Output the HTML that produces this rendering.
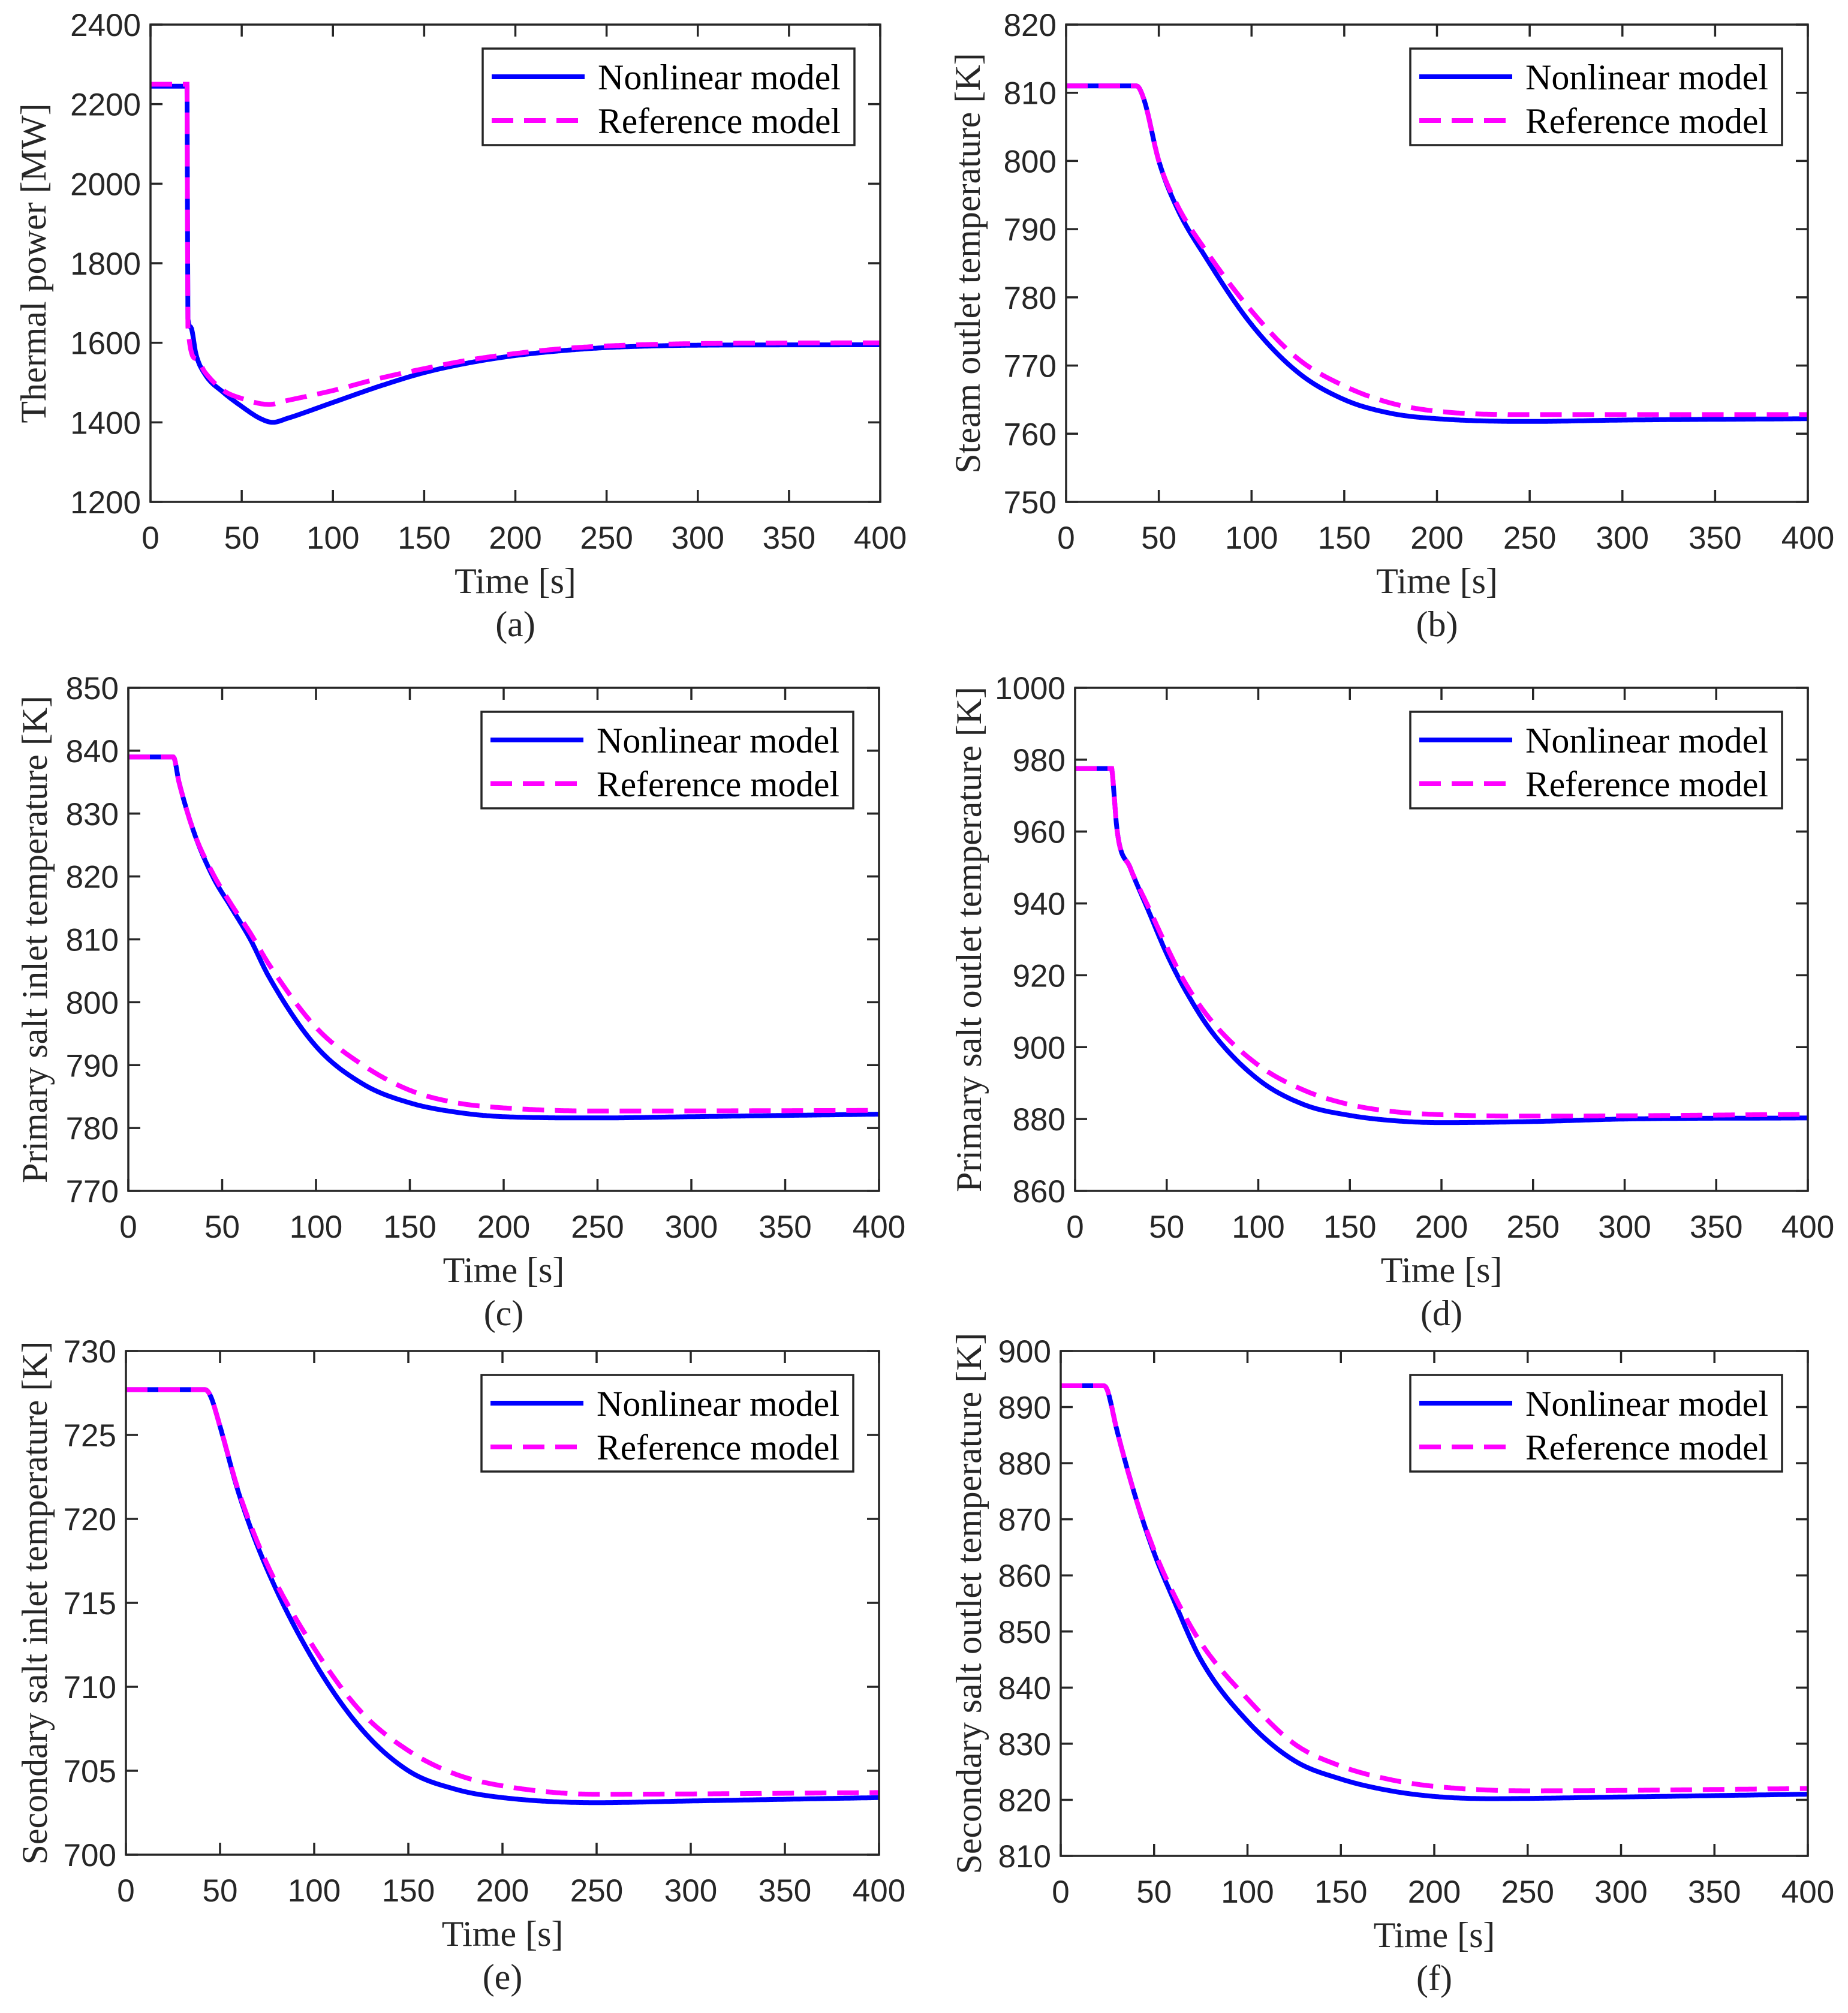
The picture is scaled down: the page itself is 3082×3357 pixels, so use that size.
<!DOCTYPE html>
<html><head><meta charset="utf-8"><style>
html,body{margin:0;padding:0;background:#fff}
svg{display:block}
.tk{font-family:"Liberation Sans",Arial,sans-serif;font-size:53px;fill:#262626}
.lb{font-family:"Liberation Serif","Times New Roman",serif;font-size:60px;fill:#262626}
.lg{font-family:"Liberation Serif","Times New Roman",serif;font-size:60px;fill:#000}
</style></head><body>
<svg id="fig" width="3082" height="3357" viewBox="0 0 3082 3357" xmlns="http://www.w3.org/2000/svg"></svg>
<script>
// ---- data ----
const aNonT=[0,20,20.5,22,25,30,40,50,60,67,75,100,125,150,175,200,225,250,275,300,400];
const aNonV=[2245,2245,1660,1640,1570,1520,1475,1440,1410,1400,1410,1450,1490,1525,1550,1568,1580,1588,1592,1594,1595];
const aRefT=[0,20,20.5,25,30,40,50,65,75,100,125,150,175,200,225,250,300,400];
const aRefV=[2250,2250,1640,1560,1525,1480,1460,1445,1455,1480,1510,1535,1557,1573,1585,1592,1598,1600];
const bNonT=[0,38,42,50,60,75,100,125,150,175,200,250,300,400];
const bNonV=[811,811,809,800,793,786,776,769,765,763,762.2,761.8,762,762.2];
const bRefT=[0,38,42,50,60,75,100,125,150,175,200,250,400];
const bRefV=[811,811,809,800,793.5,787,778,771,767,764.5,763.3,762.8,762.8];
const cNonT=[0,24,27,35,45,55,65,75,100,125,150,175,200,250,300,400];
const cNonV=[839,839,835,827,820,815,810,804,793,787,784,782.5,781.8,781.6,781.8,782.2];
const cRefT=[0,24,27,35,45,55,65,75,100,125,150,175,200,250,400];
const cRefV=[839,839,835,827,820.5,815.5,811,806,796,790,786,784,783.2,782.7,782.8];
const dNonT=[0,20,21,23,30,40,50,60,75,100,125,150,175,200,250,300,400];
const dNonV=[977.5,977.5,972,960,950,938,926,916,904,891,884,881,879.5,879,879.3,880,880.3];
const dRefT=[0,20,21,23,30,40,50,60,75,100,125,150,175,200,250,400];
const dRefV=[977.5,977.5,972,960,950,939,928,918,907,895,888,884,882,881.2,880.8,881.3];
const eNonT=[0,42,45,50,60,75,100,125,150,175,200,250,300,400];
const eNonV=[727.7,727.7,727.3,725.5,721.5,717,711.5,707.5,705,703.9,703.4,703.1,703.2,703.4];
const eRefT=[0,42,45,50,60,75,100,125,150,175,200,250,400];
const eRefV=[727.7,727.7,727.3,725.5,721.6,717.3,712.3,708.5,706.2,704.8,704.1,703.6,703.7];
const fNonT=[0,23,25,30,40,50,60,75,100,125,150,175,200,230,300,400];
const fNonV=[893.8,893.8,893,886,874,864,856,845,834,827,823.7,821.7,820.6,820.2,820.5,821];
const fRefT=[0,23,25,30,40,50,60,75,100,125,150,175,200,250,400];
const fRefV=[893.8,893.8,893,886,874,864.5,857,848,838,830,826,823.7,822.4,821.6,822];
const xTicks=[0,50,100,150,200,250,300,350,400];
const aY=[1200,1400,1600,1800,2000,2200,2400];
const bY=[750,760,770,780,790,800,810,820];
const cY=[770,780,790,800,810,820,830,840,850];
const dY=[860,880,900,920,940,960,980,1000];
const eY=[700,705,710,715,720,725,730];
const fY=[810,820,830,840,850,860,870,880,890,900];

const panels=[
 {id:'a',L:251,R:1468,T:41,B:837,yt:aY,lab:'Thermal power [MW]',lx:58,nT:aNonT,nV:aNonV,rT:aRefT,rV:aRefV},
 {id:'b',L:1778,R:3015,T:41,B:837,yt:bY,lab:'Steam outlet temperature [K]',lx:1616,nT:bNonT,nV:bNonV,rT:bRefT,rV:bRefV},
 {id:'c',L:214,R:1466,T:1147,B:1986,yt:cY,lab:'Primary salt inlet temperature [K]',lx:60,nT:cNonT,nV:cNonV,rT:cRefT,rV:cRefV},
 {id:'d',L:1793,R:3015,T:1147,B:1986,yt:dY,lab:'Primary salt outlet temperature [K]',lx:1618,nT:dNonT,nV:dNonV,rT:dRefT,rV:dRefV},
 {id:'e',L:210,R:1466,T:2253,B:3093,yt:eY,lab:'Secondary salt inlet temperature [K]',lx:60,nT:eNonT,nV:eNonV,rT:eRefT,rV:eRefV},
 {id:'f',L:1769,R:3015,T:2253,B:3095,yt:fY,lab:'Secondary salt outlet temperature [K]',lx:1618,nT:fNonT,nV:fNonV,rT:fRefT,rV:fRefV}
];
const NS='http://www.w3.org/2000/svg';
const svg=document.getElementById('fig');
function mk(tag,attrs,parent,text){const e=document.createElementNS(NS,tag);for(const k in attrs)e.setAttribute(k,attrs[k]);if(text!==undefined)e.textContent=text;parent.appendChild(e);return e;}
// monotone cubic (Fritsch-Carlson) sampling
function monotone(T,V){
 const n=T.length,d=[],m=new Array(n);
 for(let i=0;i<n-1;i++)d.push((V[i+1]-V[i])/(T[i+1]-T[i]));
 m[0]=d[0];m[n-1]=d[n-2];
 for(let i=1;i<n-1;i++){m[i]=(d[i-1]*d[i]<=0)?0:(d[i-1]+d[i])/2;}
 for(let i=0;i<n-1;i++){
  if(d[i]===0){m[i]=0;m[i+1]=0;continue;}
  const a=m[i]/d[i],b=m[i+1]/d[i],s=a*a+b*b;
  if(s>9){const t=3/Math.sqrt(s);m[i]=t*a*d[i];m[i+1]=t*b*d[i];}
 }
 const out=[];
 for(let i=0;i<n-1;i++){
  const h=T[i+1]-T[i],steps=Math.max(2,Math.ceil(h*2));
  for(let k=0;k<steps;k++){
   const u=k/steps,u2=u*u,u3=u2*u;
   const v=(2*u3-3*u2+1)*V[i]+(u3-2*u2+u)*h*m[i]+(-2*u3+3*u2)*V[i+1]+(u3-u2)*h*m[i+1];
   out.push([T[i]+u*h,v]);
  }
 }
 out.push([T[n-1],V[n-1]]);
 return out;
}

panels.forEach(p=>{
 const g=mk('g',{},svg);
 
 
 const y0=p.yt[0],y1=p.yt[p.yt.length-1];
 const sx=v=>p.L+(v-0)/400*(p.R-p.L);
 const sy=v=>p.B-(v-y0)/(y1-y0)*(p.B-p.T);
 xTicks.forEach(t=>{
  const x=sx(t);
  const tk=mk('path',{d:`M${x},${p.B}v-20M${x},${p.T}v20`,stroke:'#262626','stroke-width':3.5,fill:'none'},g);
  
  
  const tl=mk('text',{x:x,y:p.B+78,'text-anchor':'middle',class:'tk'},g,String(t));
  
  
 });
 p.yt.forEach(t=>{
  const y=sy(t);
  const tk=mk('path',{d:`M${p.L},${y}h20M${p.R},${y}h-20`,stroke:'#262626','stroke-width':3.5,fill:'none'},g);
  
  
  const tl=mk('text',{x:p.L-16,y:y+19,'text-anchor':'end',class:'tk'},g,String(t));
  
  
 });
 const clipId='clip'+p.id;
 const cp=mk('clipPath',{id:clipId},g);mk('rect',{x:p.L,y:p.T,width:p.R-p.L,height:p.B-p.T},cp);
 const pts=(T,V)=>monotone(T,V).map(q=>sx(q[0]).toFixed(1)+','+sy(q[1]).toFixed(1)).join(' ');
 const ln=mk('polyline',{points:pts(p.nT,p.nV),fill:'none',stroke:'#0000ff','stroke-width':8,'stroke-linejoin':'round','clip-path':`url(#${clipId})`},g);
 
 
 const lr=mk('polyline',{points:pts(p.rT,p.rV),fill:'none',stroke:'#ff00ff','stroke-width':8,'stroke-dasharray':'36 18','clip-path':`url(#${clipId})`},g);
 
 
 const box=mk('rect',{x:p.L,y:p.T,width:p.R-p.L,height:p.B-p.T,fill:'none',stroke:'#262626','stroke-width':3.5},g);
 
 
 const xl=mk('text',{x:(p.L+p.R)/2,y:p.B+152,'text-anchor':'middle',class:'lb'},g,'Time [s]');
 
 
 const cap=mk('text',{x:(p.L+p.R)/2,y:p.B+224,'text-anchor':'middle',class:'lb'},g,'('+p.id+')');
 
 
 const cy=(p.T+p.B)/2;
 const yl=mk('text',{x:p.lx,y:cy,'text-anchor':'middle',class:'lb',transform:`rotate(-90 ${p.lx} ${cy})`,dy:'18'},g,p.lab);
 
 
 const lgR=p.R-43,lgL=lgR-620,lgT=p.T+40;
 const lg=mk('g',{},g);
 
 
 mk('rect',{x:lgL,y:lgT,width:620,height:161,fill:'#fff',stroke:'#262626','stroke-width':3.5},lg);
 mk('path',{d:`M${lgL+15},${lgT+47}h155`,stroke:'#0000ff','stroke-width':8},lg);
 mk('path',{d:`M${lgL+15},${lgT+120}h155`,stroke:'#ff00ff','stroke-width':8,'stroke-dasharray':'36 18'},lg);
 const t1=mk('text',{x:lgL+192,y:lgT+68,class:'lg',textLength:405,lengthAdjust:'spacingAndGlyphs'},lg,'Nonlinear model');
 
 
 const t2=mk('text',{x:lgL+192,y:lgT+141,class:'lg',textLength:405,lengthAdjust:'spacingAndGlyphs'},lg,'Reference model');
 
 
});
</script>
</body></html>
